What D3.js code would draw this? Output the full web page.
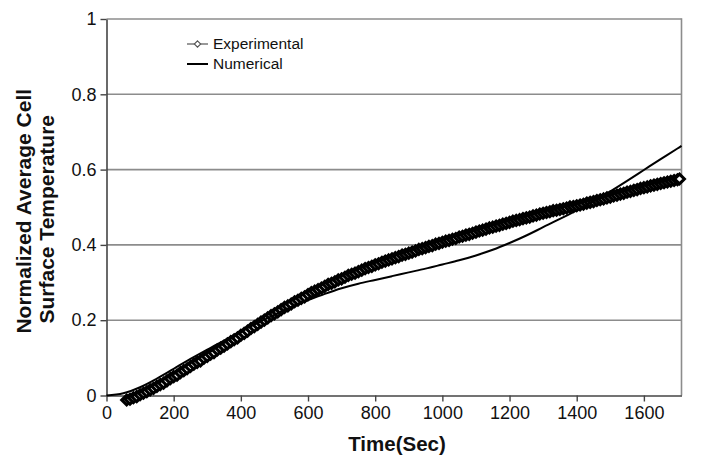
<!DOCTYPE html>
<html>
<head>
<meta charset="utf-8">
<script src="https://cdn.jsdelivr.net/npm/d3@7/dist/d3.min.js"></script>
<style>
  body { margin: 0; background: #fff; }
  text { font-family: "Liberation Sans", Arial, Helvetica, sans-serif; fill: #111; }
</style>
</head>
<body>
<svg id="chart" width="704" height="456"></svg>
<script>
// Experimental record: sample times (s) and normalized surface temperature
const expTime = [
  60, 70, 80, 90, 100, 110, 120, 130, 140, 150, 160, 170, 180, 190, 200, 210, 220, 230, 240, 250,
  260, 270, 280, 290, 300, 310, 320, 330, 340, 350, 360, 370, 380, 390, 400, 410, 420, 430, 440, 450,
  460, 470, 480, 490, 500, 510, 520, 530, 540, 550, 560, 570, 580, 590, 600, 610, 620, 630, 640, 650,
  660, 670, 680, 690, 700, 710, 720, 730, 740, 750, 760, 770, 780, 790, 800, 810, 820, 830, 840, 850,
  860, 870, 880, 890, 900, 910, 920, 930, 940, 950, 960, 970, 980, 990, 1000, 1010, 1020, 1030, 1040, 1050,
  1060, 1070, 1080, 1090, 1100, 1110, 1120, 1130, 1140, 1150, 1160, 1170, 1180, 1190, 1200, 1210, 1220, 1230, 1240, 1250,
  1260, 1270, 1280, 1290, 1300, 1310, 1320, 1330, 1340, 1350, 1360, 1370, 1380, 1390, 1400, 1410, 1420, 1430, 1440, 1450,
  1460, 1470, 1480, 1490, 1500, 1510, 1520, 1530, 1540, 1550, 1560, 1570, 1580, 1590, 1600, 1610, 1620, 1630, 1640, 1650,
  1660, 1670, 1680, 1690, 1700, 1706
];
const expTemp = [
  -0.012, -0.010, -0.006, -0.003, 0.002, 0.006, 0.010, 0.015, 0.019, 0.024, 0.029, 0.033, 0.039, 0.045, 0.050, 0.054, 0.061, 0.066, 0.071, 0.077,
  0.083, 0.088, 0.092, 0.099, 0.104, 0.110, 0.114, 0.121, 0.126, 0.131, 0.137, 0.143, 0.148, 0.153, 0.160, 0.165, 0.171, 0.178, 0.183, 0.189,
  0.195, 0.200, 0.206, 0.212, 0.217, 0.222, 0.228, 0.234, 0.238, 0.243, 0.249, 0.253, 0.258, 0.262, 0.268, 0.273, 0.277, 0.281, 0.285, 0.290,
  0.295, 0.298, 0.302, 0.307, 0.310, 0.314, 0.319, 0.322, 0.325, 0.329, 0.333, 0.337, 0.340, 0.343, 0.347, 0.350, 0.354, 0.357, 0.360, 0.363,
  0.366, 0.369, 0.373, 0.375, 0.378, 0.381, 0.384, 0.388, 0.390, 0.393, 0.396, 0.398, 0.402, 0.404, 0.407, 0.410, 0.412, 0.415, 0.417, 0.421,
  0.423, 0.426, 0.428, 0.431, 0.434, 0.437, 0.439, 0.442, 0.445, 0.447, 0.450, 0.452, 0.455, 0.457, 0.460, 0.463, 0.465, 0.467, 0.470, 0.472,
  0.474, 0.477, 0.479, 0.482, 0.484, 0.486, 0.488, 0.491, 0.492, 0.494, 0.496, 0.498, 0.501, 0.502, 0.504, 0.506, 0.508, 0.511, 0.513, 0.515,
  0.518, 0.520, 0.522, 0.525, 0.527, 0.530, 0.532, 0.535, 0.537, 0.540, 0.542, 0.545, 0.547, 0.550, 0.552, 0.554, 0.557, 0.559, 0.561, 0.563,
  0.565, 0.567, 0.569, 0.571, 0.573, 0.575
];

// Numerical model prediction
const numTime = [0, 50, 100, 150, 200, 250, 300, 350, 400, 450, 500, 550, 600, 650, 700, 750, 800, 850, 900, 950,
  1000, 1050, 1100, 1150, 1200, 1250, 1300, 1350, 1400, 1450, 1500, 1550, 1600, 1650, 1700, 1712];
const numTemp = [0.000, 0.006, 0.022, 0.045, 0.071, 0.097, 0.122, 0.146, 0.170, 0.193, 0.214, 0.235, 0.253, 0.270, 0.285, 0.297, 0.307, 0.317, 0.327, 0.337,
  0.348, 0.359, 0.372, 0.387, 0.405, 0.425, 0.447, 0.469, 0.492, 0.516, 0.542, 0.570, 0.599, 0.628, 0.656, 0.663];

const xTicks = [0, 200, 400, 600, 800, 1000, 1200, 1400, 1600];
const xTickLabels = ["0", "200", "400", "600", "800", "1000", "1200", "1400", "1600"];
const yTicks = [0, 0.2, 0.4, 0.6, 0.8, 1];
const yTickLabels = ["0", "0.2", "0.4", "0.6", "0.8", "1"];
const legendLabels = ["Experimental", "Numerical"];
const xTitle = "Time(Sec)";
const yTitleLines = ["Normalized Average Cell", "Surface Temperature"];

const W = 704, H = 456;
const margin = { left: 106.5, right: 22.5, top: 19, bottom: 60.5 };
const svg = d3.select("#chart");

const x = d3.scaleLinear().domain([0, 1712]).range([margin.left, W - margin.right]);
const y = d3.scaleLinear().domain([0, 1]).range([H - margin.bottom, margin.top]);

// horizontal gridlines
svg.append("g")
  .selectAll("line")
  .data(yTicks.filter(d => d > 0))
  .join("line")
  .attr("x1", x(0)).attr("x2", x.range()[1])
  .attr("y1", d => y(d)).attr("y2", d => y(d))
  .attr("stroke", "#8c8c8c").attr("stroke-width", 1.6);

// right border of the plot area
svg.append("line")
  .attr("x1", x.range()[1]).attr("x2", x.range()[1])
  .attr("y1", y(1) - 0.8).attr("y2", y(0))
  .attr("stroke", "#8c8c8c").attr("stroke-width", 1.6);

// axes
const xAxis = d3.axisBottom(x).tickValues(xTicks).tickSizeInner(6).tickSizeOuter(0).tickPadding(5)
  .tickFormat((d, i) => xTickLabels[i]);
const yAxis = d3.axisLeft(y).tickValues(yTicks).tickSizeInner(6).tickSizeOuter(0).tickPadding(4)
  .tickFormat((d, i) => yTickLabels[i]);

const gx = svg.append("g").attr("transform", `translate(0,${y(0)})`).call(xAxis);
const gy = svg.append("g").attr("transform", `translate(${x(0)},0)`).call(yAxis);
[gx, gy].forEach(g => {
  g.select(".domain").attr("stroke", "#444").attr("stroke-width", 1.6);
  g.selectAll(".tick line").attr("stroke", "#444").attr("stroke-width", 1.4);
  g.selectAll(".tick text").attr("font-size", 18).attr("fill", "#222")
    .attr("font-family", "'Liberation Sans', Arial, sans-serif");
});

// experimental markers (open diamonds, densely overlapping)
const diamond = r => `M0,${-r}L${r},0L0,${r}L${-r},0Z`;
const expPts = expTime.map((t, i) => [t, expTemp[i]]);
svg.append("g")
  .selectAll("path")
  .data(expPts)
  .join("path")
  .attr("d", diamond(4.9))
  .attr("transform", d => `translate(${x(d[0])},${y(d[1])})`)
  .attr("fill", "#fff")
  .attr("stroke", "#000")
  .attr("stroke-width", 3.1)
  .attr("stroke-linejoin", "miter");

// numerical curve
const numPts = numTime.map((t, i) => [t, numTemp[i]]);
svg.append("path")
  .datum(numPts)
  .attr("d", d3.line().x(d => x(d[0])).y(d => y(d[1])).curve(d3.curveCatmullRom.alpha(0.5)))
  .attr("fill", "none")
  .attr("stroke", "#000")
  .attr("stroke-width", 2);

// legend
const lg = svg.append("g").attr("transform", "translate(187,0)");
lg.append("line").attr("x1", 0).attr("x2", 21).attr("y1", 44).attr("y2", 44)
  .attr("stroke", "#555").attr("stroke-width", 1.2);
lg.append("path").attr("d", diamond(3.2)).attr("transform", "translate(10.5,44)")
  .attr("fill", "#fff").attr("stroke", "#555").attr("stroke-width", 1.1);
lg.append("line").attr("x1", 0).attr("x2", 21).attr("y1", 64).attr("y2", 64)
  .attr("stroke", "#000").attr("stroke-width", 2);
lg.selectAll("text.lbl")
  .data(legendLabels)
  .join("text")
  .attr("class", "lbl")
  .attr("x", 26)
  .attr("y", (d, i) => 49 + i * 20)
  .attr("font-size", 15.5)
  .text(d => d);

// axis titles
svg.append("text")
  .attr("x", (x.range()[0] + x.range()[1]) / 2 + 3)
  .attr("y", 451)
  .attr("text-anchor", "middle")
  .attr("font-size", 20.5)
  .attr("font-weight", "bold")
  .text(xTitle);

const yt = svg.append("text")
  .attr("transform", `translate(0,${(y(0) + y(1)) / 2 + 4}) rotate(-90)`)
  .attr("text-anchor", "middle")
  .attr("font-size", 21)
  .attr("font-weight", "bold");
yt.selectAll("tspan")
  .data(yTitleLines)
  .join("tspan")
  .attr("x", (d, i) => i === 0 ? 0 : -8)
  .attr("y", (d, i) => 31 + i * 23)
  .text(d => d);
</script>
</body>
</html>
